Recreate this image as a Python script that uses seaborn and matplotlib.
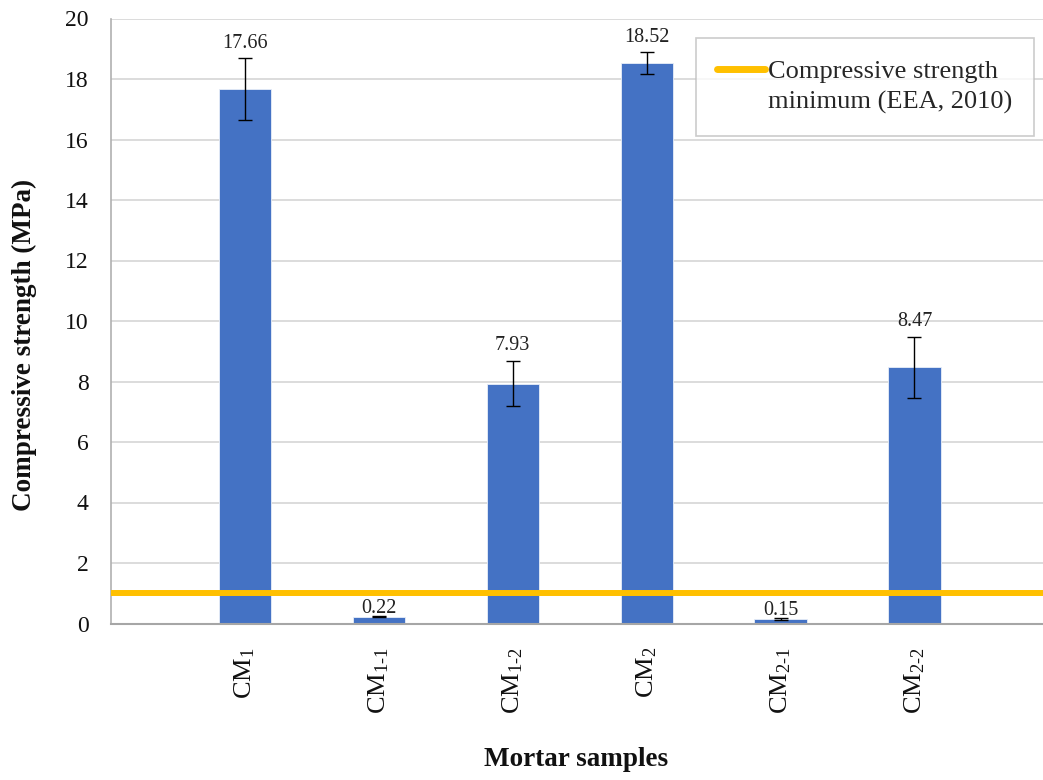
import matplotlib
matplotlib.use("Agg")
import matplotlib.pyplot as plt
from matplotlib.lines import Line2D
import seaborn as sns
import pandas as pd

# Mortar samples and their compressive strength (MPa)
samples = [r"$\mathrm{CM}_{1}$", r"$\mathrm{CM}_{1\text{-}1}$", r"$\mathrm{CM}_{1\text{-}2}$",
           r"$\mathrm{CM}_{2}$", r"$\mathrm{CM}_{2\text{-}1}$", r"$\mathrm{CM}_{2\text{-}2}$"]
strength = [17.66, 0.22, 7.93, 18.52, 0.15, 8.47]
strength_err = [1.03, 0.02, 0.75, 0.37, 0.03, 1.0]
minimum_strength = 1.0
minimum_label = ["Compressive strength", "minimum (EEA, 2010)"]
yticks = [0, 2, 4, 6, 8, 10, 12, 14, 16, 18, 20]

sns.set_theme(style="white")
plt.rcParams["font.family"] = ["Liberation Serif", "DejaVu Serif"]
plt.rcParams["mathtext.fontset"] = "custom"
plt.rcParams["mathtext.rm"] = "Liberation Serif"
plt.rcParams["mathtext.it"] = "Liberation Serif:italic"
plt.rcParams["mathtext.bf"] = "Liberation Serif:bold"

df = pd.DataFrame({"sample": samples, "strength": strength})

fig = plt.figure(figsize=(10.43, 7.8), dpi=100)
ax = fig.add_axes([111 / 1043, 1 - 623.5 / 780, 1 - 111 / 1043, (623.5 - 18.5) / 780])

sns.barplot(data=df, x="sample", y="strength", color="#4472C4", saturation=1,
            width=0.39, edgecolor="#E8EEF8", linewidth=0.6, ax=ax, zorder=2)

positions = list(range(len(samples)))
ax.errorbar(positions, strength, yerr=strength_err, fmt="none", ecolor="black",
            elinewidth=1.0, capsize=4.7, capthick=1.0, zorder=3)

# value labels above the error bars; the near-zero bars keep theirs tight to the bar
for x, v, e in zip(positions, strength, strength_err):
    dy = 4 if e >= 0.1 else -1.5
    ax.annotate(f"{v:.2f}", (x, v + e), xytext=(0, dy), textcoords="offset points",
                ha="center", va="bottom", fontsize=14.5, color="#222222", zorder=5)

min_line = ax.axhline(minimum_strength, color="#FFC000", lw=4.3, zorder=4)

ax.set_ylim(0, 20)
ax.set_xlim(-1, 5.96)
ax.set_yticks(yticks)
ax.yaxis.grid(True, color="#D9D9D9", lw=1.3, zorder=0)
ax.set_axisbelow(True)

ax.tick_params(axis="y", labelsize=17, length=0, pad=16, labelcolor="#111111")
ax.tick_params(axis="x", labelsize=19, length=0, pad=17, labelrotation=90, labelcolor="#111111")

for side in ["top", "right"]:
    ax.spines[side].set_visible(False)
ax.spines["left"].set_color("#B0B0B0")
ax.spines["left"].set_linewidth(1.2)
ax.spines["bottom"].set_color("#A6A6A6")
ax.spines["bottom"].set_linewidth(1.5)

ax.set_xlabel("Mortar samples", fontsize=19.5, fontweight="bold", color="#111111")
ax.xaxis.set_label_coords(0.5 - 1 / 932, -(759 - 623.5) / 605)
ax.xaxis.label.set_va("center")
ax.set_ylabel("Compressive strength (MPa)", fontsize=19.5, fontweight="bold", color="#111111")
ax.yaxis.set_label_coords(-(111 - 24) / 932, 1 - (345 - 18.5) / 605)
ax.yaxis.label.set_va("center")

# legend: line handle beside the first text line, second line without a handle
blank = Line2D([], [], color="none")
leg = ax.legend([min_line, blank], minimum_label, loc="upper right",
                bbox_to_anchor=((1034 - 111) / 932, (623.5 - 38) / 605), borderaxespad=0,
                fontsize=19, frameon=True, fancybox=False, handlelength=1.8,
                handletextpad=0.12, borderpad=0.82, labelspacing=0.27)
leg.get_frame().set_edgecolor("#BFBFBF")
leg.get_frame().set_linewidth(1.2)
leg.get_lines()[0].set_linewidth(5)
leg.get_lines()[0].set_solid_capstyle("round")

fig.savefig("out.png", dpi=100)
